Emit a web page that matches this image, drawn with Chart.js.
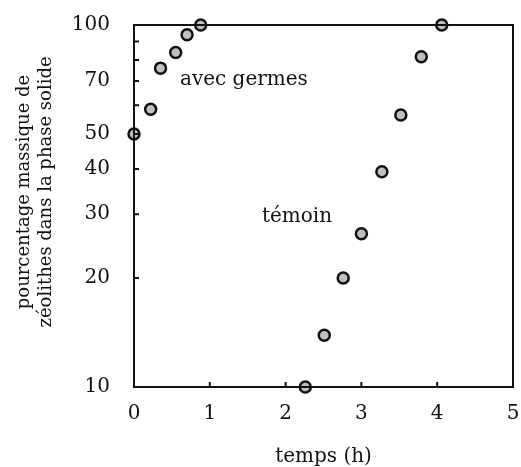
<!DOCTYPE html>
<html>
<head>
<meta charset="utf-8">
<script src="https://cdn.jsdelivr.net/npm/chart.js@4"></script>
<style>
  html, body { margin: 0; padding: 0; background: #fff; }
</style>
</head>
<body>
<canvas id="chart" width="521" height="467"></canvas>
<script>
// valeurs
const germesTemps = [0, 0.22, 0.35, 0.55, 0.70, 0.88];
const germesPourcent = [50, 58.5, 76, 84, 94, 100];
const temoinTemps = [2.26, 2.51, 2.76, 3.00, 3.27, 3.52, 3.79, 4.06];
const temoinPourcent = [10, 13.9, 20, 26.5, 39.3, 56.4, 81.7, 100];

const xTicks = [0, 1, 2, 3, 4, 5];
const yTicks = [10, 20, 30, 40, 50, 60, 70, 80, 90, 100];
const yLabels = [10, 20, 30, 40, 50, 70, 100];

const titreY = ['pourcentage massique de', 'zéolithes dans la phase solide'];

const notes = ['avec germes', 'témoin'];
const notesTemps = [1.45, 2.15];
const notesPourcent = [70.5, 29.5];

const police = 'DejaVu Serif';
const noir = '#111';

// cadre, graduations vers l'intérieur, titre de l'axe y et textes sur le graphique
const cadre = {
  id: 'cadre',
  afterDraw(chart) {
    const { ctx, chartArea: a, scales: { x, y } } = chart;
    ctx.save();
    ctx.strokeStyle = noir;
    ctx.lineWidth = 2;
    ctx.beginPath();
    xTicks.forEach((v) => {
      const px = x.getPixelForValue(v);
      ctx.moveTo(px, a.bottom);
      ctx.lineTo(px, a.bottom - 5);
    });
    yTicks.forEach((v) => {
      const py = y.getPixelForValue(v);
      ctx.moveTo(a.left, py);
      ctx.lineTo(a.left + 5, py);
    });
    ctx.stroke();
    ctx.strokeRect(a.left, a.top, a.right - a.left, a.bottom - a.top);

    ctx.fillStyle = noir;
    ctx.font = '20px "' + police + '"';
    ctx.textAlign = 'center';
    ctx.textBaseline = 'middle';
    notes.forEach((t, i) => {
      ctx.fillText(t, x.getPixelForValue(notesTemps[i]), y.getPixelForValue(notesPourcent[i]));
    });

    // titre vertical sur deux lignes, un peu au-dessus du milieu de l'axe
    ctx.font = '18px "' + police + '"';
    ctx.translate(24, (a.top + a.bottom) / 2 - 14);
    ctx.rotate(-Math.PI / 2);
    titreY.forEach((t, i) => ctx.fillText(t, 0, i * 22));
    ctx.restore();
  }
};

const pointStyle = {
  pointRadius: 5.5,
  pointBackgroundColor: '#bfbfbf',
  pointBorderColor: noir,
  pointBorderWidth: 2.5,
  showLine: false,
  clip: false
};

new Chart(document.getElementById('chart'), {
  type: 'scatter',
  data: {
    datasets: [
      {
        label: 'avec germes',
        data: germesTemps.map((t, i) => ({ x: t, y: germesPourcent[i] })),
        ...pointStyle
      },
      {
        label: 'témoin',
        data: temoinTemps.map((t, i) => ({ x: t, y: temoinPourcent[i] })),
        ...pointStyle
      }
    ]
  },
  options: {
    responsive: false,
    animation: false,
    layout: { padding: { top: 25, right: 5, left: 0, bottom: 0 } },
    plugins: {
      legend: { display: false },
      tooltip: { enabled: false }
    },
    scales: {
      x: {
        type: 'linear',
        min: 0,
        max: 5,
        afterBuildTicks: (s) => { s.ticks = xTicks.map((v) => ({ value: v })); },
        afterFit: (s) => {
          s.height = 80;
          s.paddingLeft = 0;
          s.paddingRight = 0;
        },
        grid: { display: false, drawTicks: false },
        border: { display: false },
        ticks: {
          padding: 15,
          maxRotation: 0,
          color: noir,
          font: { family: police, size: 20 }
        },
        title: {
          display: true,
          text: 'temps (h)',
          color: noir,
          font: { family: police, size: 20, lineHeight: 1.05 },
          padding: { top: 0, bottom: 0 }
        }
      },
      y: {
        type: 'logarithmic',
        min: 10,
        max: 100,
        afterBuildTicks: (s) => { s.ticks = yTicks.map((v) => ({ value: v })); },
        afterFit: (s) => {
          s.width = 134;
          s.paddingTop = 0;
          s.paddingBottom = 0;
        },
        grid: { display: false, drawTicks: false },
        border: { display: false },
        ticks: {
          padding: 24,
          color: noir,
          font: { family: police, size: 20 },
          callback: (v) => (yLabels.includes(v) ? String(v) : '')
        }
      }
    }
  },
  plugins: [cadre]
});
</script>
</body>
</html>
